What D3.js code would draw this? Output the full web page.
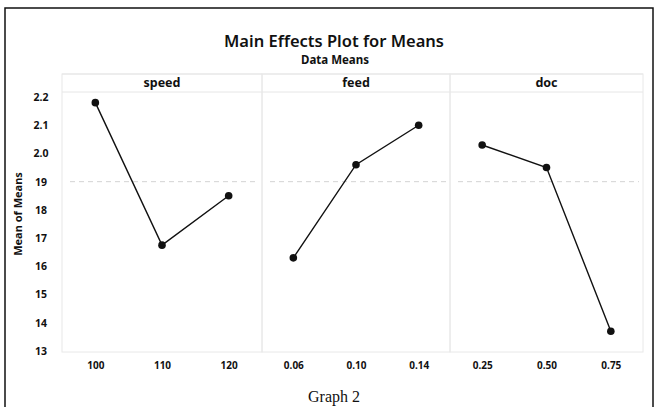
<!DOCTYPE html>
<html>
<head>
<meta charset="utf-8">
<script src="https://cdn.jsdelivr.net/npm/d3@7"></script>
<style>
body{margin:0;background:#fff;}
text{font-family:"Noto Sans",sans-serif;fill:#111;}
</style>
</head>
<body>
<div id="chart"></div>
<script>
// data
let factors=["speed","feed","doc"];
let speedLevels=["100","110","120"];
let speedMeans=[2.18,1.675,1.85];
let feedLevels=["0.06","0.10","0.14"];
let feedMeans=[1.63,1.96,2.10];
let docLevels=["0.25","0.50","0.75"];
let docMeans=[2.03,1.95,1.37];
let yTickValues=[2.2,2.1,2.0,1.9,1.8,1.7,1.6,1.5,1.4,1.3];
let yTickLabels=["2.2","2.1","2.0","19","18","17","16","15","14","13"];
let grandMean=1.9;

let width=658, height=407;
let svg=d3.select("#chart").append("svg")
.attr("width",width).attr("height",height);

// outer frame of the scanned page
svg.append("rect")
.attr("x",5).attr("y",8).attr("width",648).attr("height",420)
.attr("fill","none").attr("stroke","#111").attr("stroke-width",1.5);

svg.append("text").text("Main Effects Plot for Means")
.attr("x",334).attr("y",47).attr("text-anchor","middle")
.attr("font-size",16.5).attr("font-weight",600);
svg.append("text").text("Data Means")
.attr("x",335).attr("y",64).attr("text-anchor","middle")
.attr("font-size",11.5).attr("font-weight","bold");

let panelTop=92, panelBottom=352;
let yscale=d3.scaleLinear().domain([1.3,2.2]).range([351,97]);

let panels=[
 {name:factors[0],levels:speedLevels,means:speedMeans,x0:62,x1:262},
 {name:factors[1],levels:feedLevels,means:feedMeans,x0:262,x1:450},
 {name:factors[2],levels:docLevels,means:docMeans,x0:450,x1:643}
];

// header strip lines
svg.append("line").attr("x1",62).attr("x2",643).attr("y1",74).attr("y2",74)
.attr("stroke","#e6e6e6");
svg.append("line").attr("x1",62).attr("x2",643).attr("y1",panelTop).attr("y2",panelTop)
.attr("stroke","#e6e6e6");

panels.forEach(function(p){
 let xscale=d3.scalePoint().domain(p.levels).range([p.x0,p.x1]).padding(0.5);
 let g=svg.append("g");

 g.append("rect")
 .attr("x",p.x0).attr("y",74).attr("width",p.x1-p.x0).attr("height",panelBottom-74)
 .attr("fill","none").attr("stroke","#e8e8e8");

 g.append("line")
 .attr("x1",p.x0+8).attr("x2",p.x1-4)
 .attr("y1",yscale(grandMean)).attr("y2",yscale(grandMean))
 .attr("stroke","#d4d4d4").attr("stroke-dasharray","5,4");

 g.append("text").text(p.name)
 .attr("x",(p.x0+p.x1)/2).attr("y",87).attr("text-anchor","middle")
 .attr("font-size",12.5).attr("font-weight","bold");

 let pts=p.levels.map(function(l,i){return [l,p.means[i]];});
 let line=d3.line().x(function(d){return xscale(d[0]);}).y(function(d){return yscale(d[1]);});
 g.append("path").datum(pts).attr("d",line)
 .attr("fill","none").attr("stroke","#111").attr("stroke-width",1.4);

 g.selectAll("circle").data(pts).enter().append("circle")
 .attr("cx",function(d){return xscale(d[0]);})
 .attr("cy",function(d){return yscale(d[1]);})
 .attr("r",3.8).attr("fill","#111");

 let xAxis=d3.axisBottom(xscale).tickSize(0).tickPadding(10);
 let ax=g.append("g").attr("transform","translate(0,"+panelBottom+")").call(xAxis);
 ax.select(".domain").remove();
 ax.selectAll("text").attr("font-size",10).attr("font-weight","bold")
 .attr("fill","#111");
});

let yAxis=d3.axisLeft(yscale).tickValues(yTickValues)
.tickFormat(function(d,i){return yTickLabels[i];}).tickSize(0);
let ay=svg.append("g").attr("transform","translate(41,0)").call(yAxis);
ay.select(".domain").remove();
ay.selectAll("text").attr("x",0).attr("text-anchor","middle")
.attr("font-size",10.5).attr("font-weight","bold")
.attr("fill","#111");

svg.append("text").text("Mean of Means")
.attr("transform","translate(22,214) rotate(-90)")
.attr("text-anchor","middle").attr("font-size",11).attr("font-weight","bold");

svg.append("text").text("Graph 2")
.attr("x",334).attr("y",402).attr("text-anchor","middle")
.style("font-family","\"Liberation Serif\",serif").attr("font-size",16);
</script>
</body>
</html>
